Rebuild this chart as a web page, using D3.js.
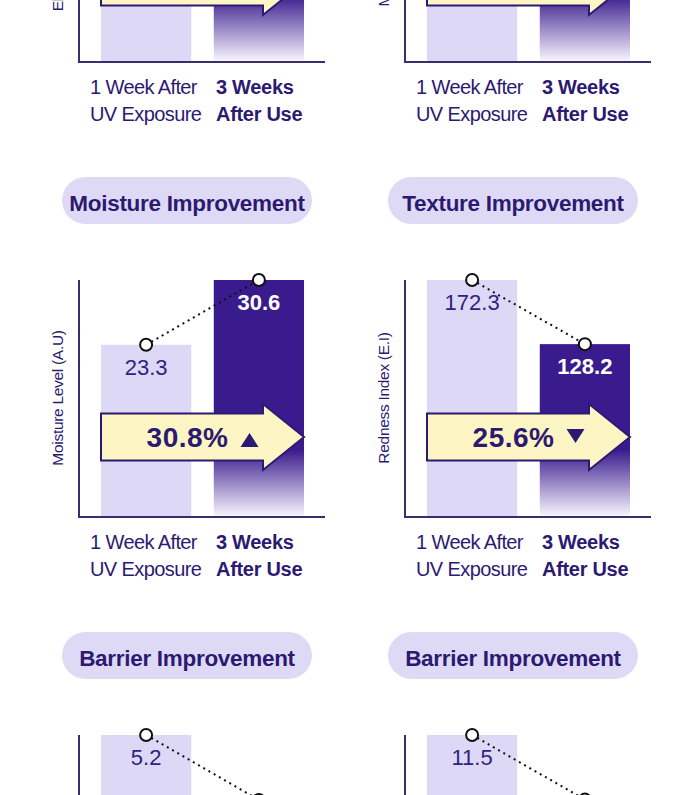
<!DOCTYPE html>
<html>
<head>
<meta charset="utf-8">
<script src="https://cdn.jsdelivr.net/npm/d3@7"></script>
<style>
  body { margin: 0; background: #ffffff; }
  svg { display: block; }
</style>
</head>
<body>
<script>
// Panells en ordre de lectura (fila a fila, dues columnes)
const titles = ["Elasticity Improvement", "Brightening Improvement",
                "Moisture Improvement", "Texture Improvement",
                "Barrier Improvement", "Barrier Improvement"];
const yLabels = ["Elasticity Level (A.U)", "Melanin Index (M.I)",
                 "Moisture Level (A.U)", "Redness Index (E.I)",
                 "TEWL (g/m²h)", "TEWL (g/m²h)"];
const categories = ["1 Week After UV Exposure", "3 Weeks After Use"];
const tickLines = [["1 Week After", "UV Exposure"], ["3 Weeks", "After Use"]];
const beforeValues = [0.61, 182.4, 23.3, 172.3, 5.2, 11.5];
const afterValues = [0.74, 151.6, 30.6, 128.2, 4.1, 8.9];
const axisFloor = [0.26, 69, 4, 10, 1.2, 2];
const changeText = ["21.3%", "16.9%", "30.8%", "25.6%", "21.2%", "22.6%"];

const W = 700, H = 795;
const colX = [0, 326];
const rowY = [-278, 177, 632];
const base = 339, axisTop = 103;

const purple = "#2c1a72";
const dark = "#3a1b8d";
const light = "#dcd8f5";
const font = "'Liberation Sans', Arial, sans-serif";

const svg = d3.select("body").append("svg")
    .attr("width", W)
    .attr("height", H)
    .style("font-family", font);

// Degradat de la barra fosca
const grad = svg.append("defs").append("linearGradient")
    .attr("id", "darkFade")
    .attr("gradientUnits", "userSpaceOnUse")
    .attr("x1", 0).attr("x2", 0)
    .attr("y1", base - 66).attr("y2", base);
grad.append("stop").attr("offset", "0%").attr("stop-color", dark);
grad.append("stop").attr("offset", "100%").attr("stop-color", "#f7f5fd");

titles.forEach((t, i) => {
    const g = svg.append("g")
        .attr("transform", `translate(${colX[i % 2]}, ${rowY[Math.floor(i / 2)]})`);

    const vals = [beforeValues[i], afterValues[i]];
    const x = d3.scaleBand().domain(categories).range([101, 304]).paddingInner(0.2);
    const y = d3.scaleLinear().domain([axisFloor[i], d3.max(vals)]).range([base, axisTop]);
    const cx = k => x(k) + x.bandwidth() / 2;

    // Títol
    g.append("rect")
        .attr("x", 62).attr("y", 0)
        .attr("width", 250).attr("height", 47)
        .attr("rx", 23.5)
        .attr("fill", "#dedaf6");
    g.append("text")
        .attr("x", 187).attr("y", 34)
        .attr("text-anchor", "middle")
        .style("font-size", "22.5px")
        .style("font-weight", "bold")
        .style("letter-spacing", "-0.3px")
        .style("fill", purple)
        .text(t);

    // Barres
    g.selectAll("rect.bar")
        .data(categories)
        .enter()
        .append("rect")
            .attr("class", "bar")
            .attr("x", d => x(d))
            .attr("y", (d, j) => y(vals[j]))
            .attr("width", x.bandwidth())
            .attr("height", (d, j) => base - y(vals[j]))
            .attr("fill", (d, j) => j === 0 ? light : "url(#darkFade)");

    // Eixos
    g.append("line")
        .attr("x1", 79).attr("x2", 79)
        .attr("y1", y.range()[1]).attr("y2", base + 1)
        .attr("stroke", "#3a2d6b").attr("stroke-width", 2);
    g.append("line")
        .attr("x1", 78).attr("x2", 325)
        .attr("y1", base + 1).attr("y2", base + 1)
        .attr("stroke", "#3a2d6b").attr("stroke-width", 2);

    // Fletxa
    const ax0 = x.range()[0], ax1 = x.range()[1], ay = 260;
    const headBase = ax1 - 41;
    g.append("path")
        .attr("d", `M${ax0},${ay - 23.5} L${headBase},${ay - 23.5} L${headBase},${ay - 33}
                    L${ax1},${ay} L${headBase},${ay + 33} L${headBase},${ay + 23.5}
                    L${ax0},${ay + 23.5} Z`)
        .attr("fill", "#fdf6c4")
        .attr("stroke", purple)
        .attr("stroke-width", 2)
        .attr("stroke-linejoin", "miter");

    const mid = (ax0 + ax1) / 2;
    g.append("text")
        .attr("x", mid + 26).attr("y", 270)
        .attr("text-anchor", "end")
        .style("font-size", "28px")
        .style("font-weight", "bold")
        .style("letter-spacing", "0.5px")
        .style("fill", purple)
        .text(changeText[i]);

    const up = vals[1] > vals[0];
    const tx = mid + 47;
    g.append("path")
        .attr("d", up
            ? `M${tx},256 L${tx + 9},270 L${tx - 9},270 Z`
            : `M${tx - 9},252 L${tx + 9},252 L${tx},266 Z`)
        .attr("fill", purple);

    // Línia puntejada i cercles
    g.append("line")
        .attr("x1", cx(categories[0])).attr("y1", y(vals[0]))
        .attr("x2", cx(categories[1])).attr("y2", y(vals[1]))
        .attr("stroke", "#111")
        .attr("stroke-width", 2)
        .attr("stroke-dasharray", "2,4");

    g.selectAll("circle")
        .data(categories)
        .enter()
        .append("circle")
            .attr("cx", d => cx(d))
            .attr("cy", (d, j) => y(vals[j]))
            .attr("r", 6)
            .attr("fill", "white")
            .attr("stroke", "#111")
            .attr("stroke-width", 2);

    // Valors
    g.selectAll("text.val")
        .data(categories)
        .enter()
        .append("text")
            .attr("class", "val")
            .attr("x", d => cx(d))
            .attr("y", (d, j) => y(vals[j]) + 30)
            .attr("text-anchor", "middle")
            .style("font-size", "22px")
            .style("font-weight", (d, j) => j === 0 ? "normal" : "bold")
            .style("fill", (d, j) => j === 0 ? "#30237f" : "white")
            .text((d, j) => vals[j]);

    // Etiquetes de l'eix X
    tickLines.forEach((lines, j) => {
        lines.forEach((s, k) => {
            g.append("text")
                .attr("x", j === 0 ? 90 : 216)
                .attr("y", 372 + k * 27)
                .style("font-size", "20px")
                .style("font-weight", j === 0 ? "normal" : "bold")
                .style("letter-spacing", j === 0 ? "-0.6px" : "-0.3px")
                .style("fill", purple)
                .text(s);
        });
    });

    // Etiqueta de l'eix Y
    g.append("text")
        .attr("transform", `translate(57.5, 221) rotate(-90)`)
        .attr("text-anchor", "middle")
        .attr("dominant-baseline", "central")
        .style("font-size", "15.5px")
        .style("letter-spacing", "-0.3px")
        .style("fill", purple)
        .text(yLabels[i]);
});
</script>
</body>
</html>
